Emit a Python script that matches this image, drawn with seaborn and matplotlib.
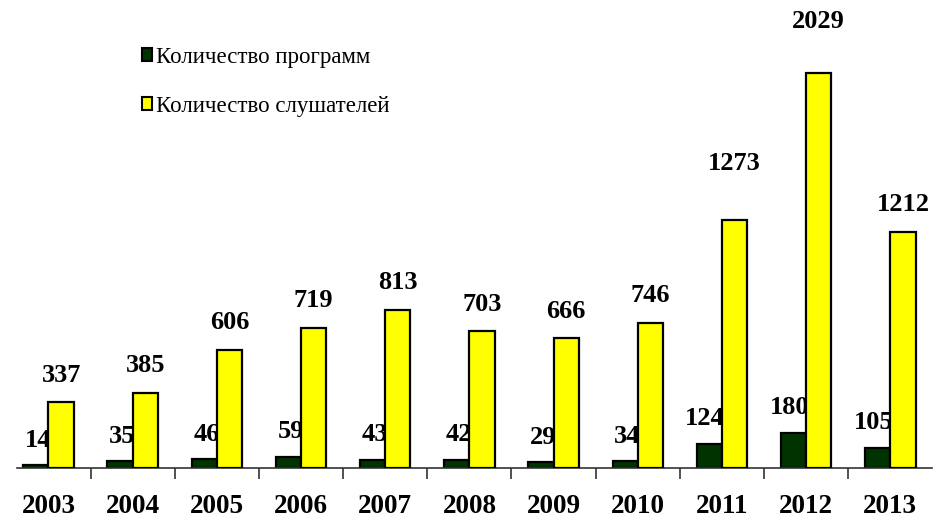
import seaborn as sns
import pandas as pd
import numpy as np
import matplotlib.pyplot as plt
from matplotlib.ticker import FixedLocator

years = ["2003", "2004", "2005", "2006", "2007", "2008", "2009", "2010", "2011", "2012", "2013"]
programs = [14, 35, 46, 59, 43, 42, 29, 34, 124, 180, 105]
listeners = [337, 385, 606, 719, 813, 703, 666, 746, 1273, 2029, 1212]
series = ["Количество программ", "Количество слушателей"]
colors = ["#003300", "#FFFF00"]

df = pd.DataFrame({
    "year": years * 2,
    "value": programs + listeners,
    "series": [series[0]] * len(years) + [series[1]] * len(years),
})

sns.set_style("white")
plt.rcParams["font.family"] = ["Liberation Serif", "DejaVu Serif"]
plt.rcParams["text.color"] = "black"
plt.rcParams["xtick.color"] = "black"

fig = plt.figure(figsize=(9.33, 5.2), dpi=100)
ax = fig.add_axes([6.4 / 933, 0.1, 926 / 933, 0.88])

sns.barplot(data=df, x="year", y="value", hue="series", palette=colors,
            saturation=1, width=0.6, edgecolor="black", linewidth=1.6,
            ax=ax, legend=True)

ax.set_xlim(-0.5, 10.5)
ax.set_ylim(0, 2350)

# a couple of labels in the original sit higher above their bars
extra_lift = {1273: 30, 2029: 24}

green, yellow = ax.containers[0], ax.containers[1]
for gb, yb, gv, yv in zip(green, yellow, programs, listeners):
    gb.set_zorder(2)
    yb.set_zorder(4)
    # green labels tuck behind the yellow bars, like in the original
    ax.annotate(str(gv), (yb.get_x(), gb.get_height()), xytext=(2, 18),
                textcoords="offset points", ha="right", va="center",
                fontsize=19, fontweight="bold", zorder=3)
    ax.annotate(str(yv), (yb.get_x() + yb.get_width() / 2, yb.get_height()),
                xytext=(0, 19.5 + extra_lift.get(yv, 0) * 0.72),
                textcoords="offset points", ha="center", va="center",
                fontsize=19, fontweight="bold", zorder=5)

sns.despine(ax=ax, left=True, top=True, right=True)
ax.spines["bottom"].set_color("#333333")
ax.spines["bottom"].set_linewidth(1.2)
ax.spines["bottom"].set_bounds(-0.37, 10.5)
ax.set_yticks([])
ax.set_xlabel("")
ax.set_ylabel("")
ax.xaxis.set_minor_locator(FixedLocator(np.arange(0.5, 10, 1.0)))
ax.tick_params(axis="x", which="major", length=0, pad=19, labelsize=19.5)
ax.tick_params(axis="x", which="minor", length=8, width=1.2, color="#333333",
               direction="out", bottom=True)
for lbl in ax.get_xticklabels():
    lbl.set_fontweight("bold")

leg = ax.legend(loc="upper left", bbox_to_anchor=(115 / 926, 0.965), frameon=False,
                handlelength=0.42, handleheight=0.5, handletextpad=0.2,
                labelspacing=1.2, fontsize=16.5)
for h in leg.legend_handles:
    h.set_linewidth(1.5)

fig.savefig("out.png", dpi=100)
